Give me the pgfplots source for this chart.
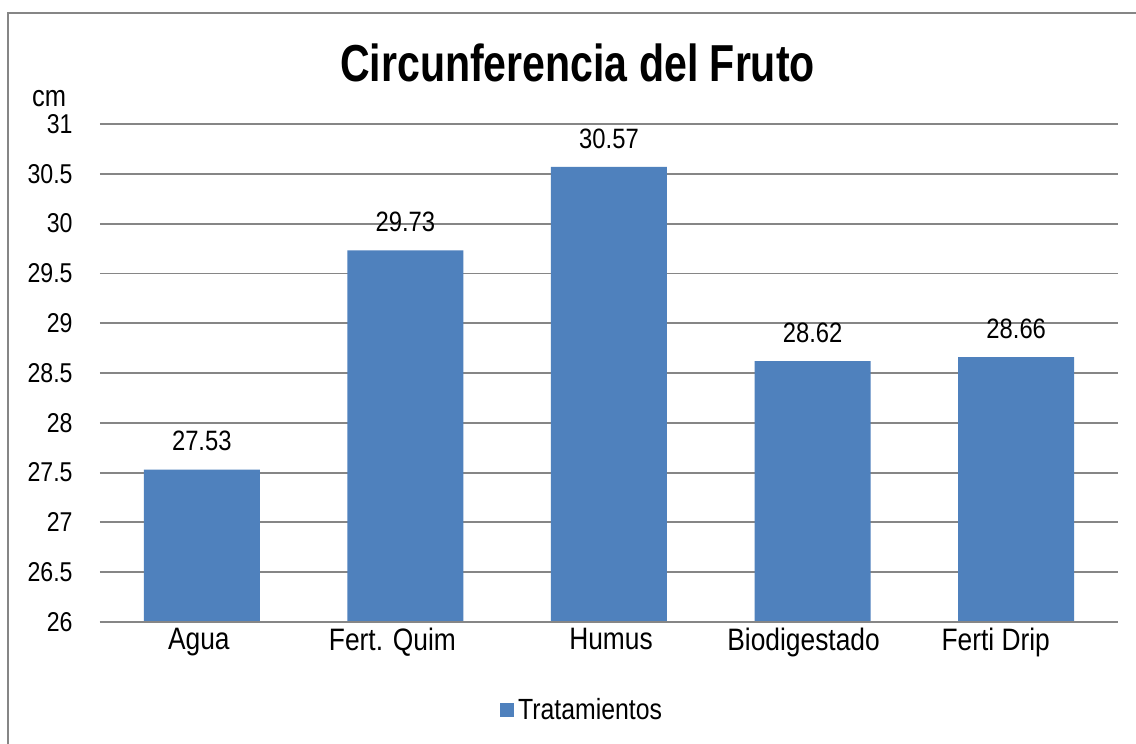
\documentclass[border=0pt]{standalone}
\usepackage{fontspec}
\setmainfont[FakeStretch=0.85]{Liberation Sans}
\newfontfamily\titlefont[FakeStretch=0.79]{Liberation Sans}
\usepackage{pgfplots}
\pgfplotsset{compat=1.18}
\definecolor{barblue}{HTML}{4F81BD}
\definecolor{gridgray}{HTML}{868686}
\begin{document}
\begin{tikzpicture}
\useasboundingbox (0,0) rectangle (568pt,372pt);
\clip (0,0) rectangle (568pt,372pt);
\fill[white] (0,0) rectangle (568pt,372pt);
\draw[gridgray, line width=1pt] (4pt,-10pt) -- (4pt,365.5pt) -- (580pt,365.5pt);
\node[anchor=base, inner sep=0pt] at (288.75pt,331pt) {\titlefont\bfseries\fontsize{26}{30}\selectfont Circunferencia del Fruto};
\node[anchor=base, inner sep=0pt] at (24.5pt,318.5pt) {\fontsize{15}{18}\selectfont cm};
\begin{axis}[
  at={(50pt,61pt)}, anchor=south west,
  scale only axis, width=509pt, height=249pt,
  xmin=-0.5, xmax=4.5, ymin=26, ymax=31,
  ytick={26,26.5,...,31},
  xtick={0,1,2,3,4},
  xticklabels={Agua\hspace*{3pt},Fert. Quim\hspace*{13pt},\hspace*{2pt}Humus,Biodigestado\hspace*{9pt},Ferti Drip\hspace*{20.5pt}},
  ymajorgrids, grid style={gridgray, line width=0.9pt},
  axis line style={draw=none},
  major tick length=0pt,
  /pgf/number format/assume math mode=true,
  /pgf/number format/.cd, fixed, use period, 1000 sep={}, /pgfplots/.cd,
  yticklabel style={font=\fontsize{13.6}{16}\selectfont, inner sep=0pt, anchor=east, xshift=-13.5pt},
  xticklabel style={font=\fontsize{15.5}{18}\selectfont, inner sep=0pt, anchor=north, yshift=-2.8pt},
  ybar, bar width=58pt, bar shift=0pt,
  nodes near coords,
  nodes near coords style={font=\fontsize{14}{16}\selectfont, inner sep=0pt, anchor=south, yshift=9pt,
    /pgf/number format/.cd, fixed, fixed zerofill, precision=2, assume math mode=true},
  legend style={at={(0.4745,-0.1767)}, anchor=center, draw=none, fill=none,
    font=\fontsize{14.6}{16}\selectfont, inner sep=0pt},
  legend image code/.code={\fill[barblue] (0pt,-3.6pt) rectangle (7pt,3.4pt);},
]
\addplot[fill=barblue, draw=none] coordinates {(0,27.53) (1,29.73) (2,30.57) (3,28.62) (4,28.66)};
\addlegendentry{Tratamientos}
\draw[gridgray, line width=0.9pt] (rel axis cs:0,0) -- (rel axis cs:1,0);
\end{axis}
\end{tikzpicture}
\end{document}
